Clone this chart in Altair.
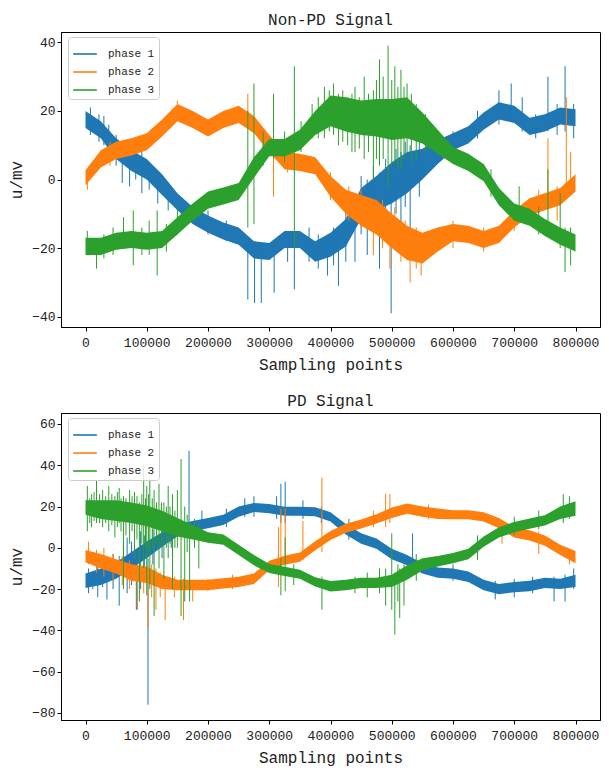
import altair as alt
import pandas as pd

FONT = "Liberation Mono"
NAMES = ["phase 1", "phase 2", "phase 3"]
COLORS = ["#1f77b4", "#ff7f0e", "#2ca02c"]

# sampling positions of the read-off envelope
X = list(range(0, 800001, 25000))

# ---------------- Non-PD signal (top) ----------------
top_c1 = [17.5, 14.5, 9, 5.5, 3, -1.5, -6.5, -10.5, -13, -15, -16.5, -20.5, -21, -17.5, -17.5, -21, -19,
          -15.5, -7, -4, -1, 2, 4.5, 8, 11, 13, 17, 20, 19, 15.5, 16.5, 18.5, 18]
top_h1 = [2.5, 2.5, 3, 3, 3, 3, 2.5, 2.5, 2.5, 2.5, 2.5, 2.5, 2.5, 2.5, 2.5, 3, 3.5, 4, 4.5, 5, 6, 6, 4.5, 3.5,
          2.5, 2.5, 2.5, 2.5, 2.5, 2.5, 2.5, 2.5, 2.5]
top_c2 = [0.5, 6, 8.5, 9.5, 11, 15, 19.5, 17.5, 15, 17.5, 19, 16, 10.5, 5.5, 5, 4, -2, -6.5, -9, -11, -15,
          -18.5, -20, -17.5, -15.5, -16, -17.5, -16, -11.5, -8, -6.5, -5, -1]
top_h2 = [2.2, 2.5, 2.5, 2.5, 2.5, 2.5, 2.5, 2.5, 2.5, 2.5, 2.5, 2.5, 2.5, 2.5, 2.5, 2.5, 3, 3.5, 4.5, 5, 5, 5,
          4.5, 3.5, 2.5, 2.5, 2.5, 2.5, 2.5, 2.5, 2.5, 2.5, 2.5]
top_c3 = [-19.5, -19.5, -18, -17.5, -18, -17.5, -13.5, -9.5, -6, -4.8, -3.5, 3.5, 9.3, 9.3, 11.5, 16.5, 20, 19,
          18, 18, 17.5, 18, 15, 11, 7, 5, 2, -5, -9.5, -11, -14, -16.5, -18.5]
top_h3 = [2.5, 2.5, 2.5, 2.5, 2.5, 2.5, 2.5, 2.5, 2.5, 2.5, 2.5, 3, 2.5, 2.5, 3, 3.5, 4.5, 5, 5, 5.5, 6, 6, 4.5,
          3.5, 2.5, 2.5, 2.5, 2.5, 2.5, 2.5, 2.5, 2.5, 2.5]

top_s1 = [(8000, 13, 21), (22000, 11, 19), (30000, 10, 18.5), (38000, 7, 16), (50000, 4, 13), (60000, -1, 8),
          (72000, -2, 6), (82000, 0, 8), (92000, -4, 10), (104000, -3, 5), (118000, -7, 2), (135000, -9, -1),
          (200000, -16, -9), (230000, -18, -12), (265000, -35, -18), (276000, -36, -18), (287000, -36, -19),
          (308000, -33, -18), (330000, -24, -15), (341000, -32, -16), (365000, -24, -14), (380000, -26, -16),
          (395000, -28, -17), (405000, -25, -14), (413000, -31, -15), (425000, -24, -9), (440000, -24, -10),
          (450000, -16, 1), (460000, -22, 0), (470000, -14, 4), (480000, -26, 2), (490000, -12, 6),
          (499000, -39, -2), (507000, -10, 9), (515000, -20, 8), (522000, -8, 11), (530000, -15, 10),
          (545000, -5, 12), (600000, 8, 14), (640000, 12, 20), (675000, 16, 26), (695000, 17, 28),
          (713000, 14, 24), (735000, 12, 19), (755000, 14, 30), (770000, 13, 22), (783000, 14, 33),
          (797000, 12, 22)]
top_s2 = [(3000, -3, 3), (40000, 4, 11), (150000, 17, 23), (265000, 16, 25), (290000, 8, 15), (307000, -5, 10),
          (330000, 2, 8), (400000, -6, 2), (430000, -12, -2), (450000, -14, -3), (470000, -22, -8),
          (485000, -20, -6), (497000, -26, -12), (505000, -20, -8), (515000, -24, -12), (522000, -22, -12),
          (530000, -30, -16), (540000, -26, -14), (548000, -28, -17), (600000, -20, -12), (650000, -21, -14),
          (700000, -15, -8), (740000, -10, -3), (755000, -8, 12), (770000, -12, -2), (785000, -3, 24),
          (792000, -4, 8)]
top_s3 = [(3000, -22, -15), (18000, -26, -18), (30000, -23, -16), (45000, -22, -14), (62000, -20, -11),
          (78000, -25, -9), (92000, -22, -14), (104000, -22, -12), (117000, -28, -9), (132000, -21, -13),
          (150000, -16, -8), (265000, -14, 20), (275000, -13, 28), (290000, 4, 14), (307000, 6, 25),
          (325000, 5, 14), (341000, -20, 33), (352000, 8, 17), (370000, 12, 22), (380000, 12, 24),
          (390000, 12, 27), (398000, 14, 26), (405000, 13, 28), (413000, 10, 25), (420000, 11, 26),
          (428000, 10, 24), (435000, 8, 25), (440000, 8, 27), (447000, 9, 24), (455000, 6, 30), (462000, 8, 25),
          (470000, 0, 26), (475000, 6, 29), (480000, 4, 35), (486000, 6, 30), (494000, -2, 39), (500000, 4, 29),
          (505000, 5, 33), (510000, 3, 27), (515000, 3, 32), (520000, 6, 27), (525000, 8, 28), (532000, 5, 25),
          (540000, 6, 22), (555000, 8, 19), (662000, -5, 3), (708000, -12, -2), (740000, -16, -8),
          (755000, -16, 3), (775000, -20, -4), (783000, -27, -14), (792000, -25, -14)]

# ---------------- PD signal (bottom) ----------------
bot_c1 = [-16, -14, -11, -6, -1, 4, 8.5, 10.5, 12, 13.5, 17.5, 19.5, 19, 17.7, 17.7, 17.5, 15, 9, 4.5, 2, -3,
          -6, -10, -12, -12.5, -14, -18, -20, -19, -18.5, -17, -17.5, -16]
bot_h1 = [3.5, 4, 4, 4, 4, 3.5, 3, 2.5, 2.5, 2.5, 2.5, 2.2, 2.2, 2.2, 2.2, 2.2, 2.2, 2.5, 2.5, 2.5, 2.5, 2.5,
          2.5, 2.5, 2.5, 2.5, 2.5, 2.5, 2.5, 2.5, 2.5, 2.5, 3]
bot_c2 = [-4, -6.5, -9, -12, -13, -16.5, -18, -18, -18, -17.2, -16.5, -15, -8.5, -6, -4.5, 1, 6, 9.5, 11.5, 14,
          17, 19, 17.5, 16.5, 16, 16, 15, 12, 7.5, 6, 3.5, -1, -4.5]
bot_h2 = [3, 3.5, 3.5, 4, 4, 3.5, 2.5, 2.5, 2.5, 2.5, 2.5, 2.5, 2.2, 2.2, 2.2, 2.2, 2.2, 2.2, 2.2, 2.2, 2.5,
          2.5, 2.5, 2.5, 2.2, 2.2, 2.2, 2.5, 2.5, 2.5, 2.5, 2.5, 3]
bot_c3 = [19.5, 18.5, 18, 17, 15.5, 13, 10, 7.5, 5, 4, -1, -6, -10, -11.4, -12.8, -16.5, -18.6, -18, -17, -17,
          -16, -12, -8, -6.5, -5, -3, 3, 7.5, 10, 11.7, 13.3, 17, 19]
bot_h3 = [3.5, 4.5, 5, 5, 5, 5, 4.5, 3.5, 2.5, 2.5, 2.5, 2.5, 2.2, 2.2, 2.2, 2.2, 2.5, 2.5, 2.5, 2.5, 3, 3.5, 3,
          2.5, 2.5, 2.5, 2.5, 2.5, 2.5, 2.5, 2.5, 3, 3.5]

bot_s1 = [(5000, -22, -10), (12000, -20, -12), (20000, -24, -8), (28000, -19, -6), (35000, -25, -5),
          (45000, -20, -3), (55000, -28, -4), (62000, -16, 2), (68000, -22, 5), (75000, -18, 3),
          (83000, -30, -6), (90000, -20, 8), (96000, -14, 6), (102000, -76, -5), (110000, -8, 9),
          (125000, -5, 12), (140000, 0, 14), (169000, 5, 47), (190000, 6, 18), (230000, 10, 19),
          (260000, 15, 24), (275000, 15, 25), (312000, 14, 25), (319000, 12, 31), (326000, 12, 32),
          (355000, 14, 23), (385000, 12, 20), (430000, 4, 14), (534000, -12, 7), (600000, -16, -8),
          (669000, -25, -16), (700000, -24, -15), (730000, -22, -14), (765000, -26, -14), (783000, -26, -13),
          (797000, -20, -10)]
bot_s2 = [(5000, -8, 3), (18000, -12, -1), (30000, -14, 0), (45000, -16, -3), (60000, -18, -4),
          (72000, -20, -6), (85000, -30, -8), (95000, -22, -8), (102000, -39, -10), (108000, -24, -8),
          (115000, -30, -10), (122000, -24, -12), (130000, -35, -14), (145000, -24, -14), (160000, -35, -15),
          (175000, -26, -16), (200000, -21, -15), (240000, -20, -13), (315000, -19, 10), (319000, -10, 19),
          (326000, -8, 19), (355000, -6, 13), (386000, -2, 34), (470000, 10, 18), (490000, 10, 26),
          (497000, 12, 26), (560000, 14, 21), (680000, 2, 10), (740000, -3, 8), (790000, -8, -1)]
bot_s3 = [(3000, 8, 30), (7000, 12, 24), (10000, 10, 26), (14000, 13, 27), (18000, 12, 33), (23000, 12, 26),
          (28000, 10, 28), (33000, 12, 25), (38000, 8, 30), (43000, 11, 26), (48000, 5, 25), (52000, 10, 27),
          (55000, 12, 29), (58000, 8, 24), (62000, -20, 25), (66000, 6, 24), (72000, 2, 28), (76000, 8, 25),
          (80000, -5, 27), (84000, 4, 25), (88000, -26, 22), (92000, 2, 26), (95000, -10, 40), (98000, 0, 24),
          (100000, -23, 30), (103000, -2, 26), (105000, -20, 34), (109000, 0, 24), (112000, -33, 28),
          (116000, 2, 22), (120000, -10, 31), (124000, 0, 22), (128000, -15, 22), (132000, 0, 20),
          (135000, -5, 30), (138000, 2, 20), (142000, -20, 26), (146000, 0, 18), (150000, 0, 28),
          (156000, -33, 43), (162000, -26, 20), (166000, -2, 16), (170000, -26, 12), (178000, 0, 14),
          (185000, -10, 12), (319000, -23, -5), (326000, -21, 5), (340000, -18, -8), (386000, -30, -14),
          (440000, -22, -14), (460000, -24, -12), (480000, -22, -10), (490000, -28, -10), (500000, -30, 7),
          (505000, -42, -12), (510000, -26, -8), (513000, -34, -10), (520000, -28, -8), (540000, -16, -3),
          (640000, -6, 6), (700000, 6, 15), (740000, 9, 18), (780000, 12, 26), (790000, 14, 25)]

X_TICKS = [0, 100000, 200000, 300000, 400000, 500000, 600000, 700000, 800000]
TOP_Y_TICKS = [-40, -20, 0, 20, 40]
BOT_Y_TICKS = [-80, -60, -40, -20, 0, 20, 40, 60]


def band_frame(centers, halves, name):
    return pd.DataFrame({"x": X,
                         "lo": [c - h for c, h in zip(centers, halves)],
                         "hi": [c + h for c, h in zip(centers, halves)],
                         "series": name})


def spike_frame(spikes, name):
    return pd.DataFrame({"x": [s[0] for s in spikes],
                         "lo": [s[1] for s in spikes],
                         "hi": [s[2] for s in spikes],
                         "series": name})


def panel(bands, spikes, title, ydom, yticks, height):
    xenc = alt.X("x:Q", scale=alt.Scale(domain=[-40000, 840000], nice=False, zero=False),
                 axis=alt.Axis(values=X_TICKS, format="d", title="Sampling points",
                               labelFlush=False, labelOverlap=False, titlePadding=7, labelPadding=5))
    yenc = alt.Y("lo:Q", scale=alt.Scale(domain=ydom, nice=False, zero=False),
                 axis=alt.Axis(values=yticks, title="u/mv", labelFlush=False, titlePadding=7))
    color = alt.Color("series:N", scale=alt.Scale(domain=NAMES, range=COLORS),
                      legend=alt.Legend(title=None, orient="none", legendX=7, legendY=5,
                                        fillColor="rgba(255,255,255,0.8)", strokeColor="#cccccc",
                                        cornerRadius=3, padding=4, symbolType="stroke", symbolSize=560,
                                        symbolStrokeWidth=1.6, labelFont=FONT, labelFontSize=11,
                                        labelColor="#222222", labelOffset=10, rowPadding=0,
                                        symbolOpacity=1))
    layers = []
    for name, col, bdf, sdf in zip(NAMES, COLORS, bands, spikes):
        layers.append(alt.Chart(bdf).mark_area(opacity=1, clip=True).encode(
            x=xenc, y=yenc, y2="hi:Q", color=alt.value(col)))
        layers.append(alt.Chart(sdf).mark_rule(strokeWidth=1, clip=True).encode(
            x=xenc, y=yenc, y2="hi:Q", color=color))
    return alt.layer(*layers).properties(width=539, height=height, title=title)


top = panel([band_frame(top_c1, top_h1, NAMES[0]), band_frame(top_c2, top_h2, NAMES[1]),
             band_frame(top_c3, top_h3, NAMES[2])],
            [spike_frame(top_s1, NAMES[0]), spike_frame(top_s2, NAMES[1]), spike_frame(top_s3, NAMES[2])],
            "Non-PD Signal", [-43, 43], TOP_Y_TICKS, 295)
bottom = panel([band_frame(bot_c1, bot_h1, NAMES[0]), band_frame(bot_c2, bot_h2, NAMES[1]),
                band_frame(bot_c3, bot_h3, NAMES[2])],
               [spike_frame(bot_s1, NAMES[0]), spike_frame(bot_s2, NAMES[1]), spike_frame(bot_s3, NAMES[2])],
               "PD Signal", [-83.4, 65.3], BOT_Y_TICKS, 307)

chart = alt.vconcat(top, bottom, spacing=19).resolve_scale(color="independent").resolve_legend(
    color="independent"
).configure(
    padding={"left": 0, "top": 3, "right": 0, "bottom": 0}
).configure_view(
    stroke="black", strokeWidth=1
).configure_axis(
    grid=False, domainColor="black", tickColor="black", tickSize=4, labelFont=FONT, labelFontSize=13,
    labelColor="#222222", titleFont=FONT, titleFontSize=16, titleFontWeight="normal", titleColor="#222222",
    labelPadding=2
).configure_title(
    font=FONT, fontSize=16, fontWeight="normal", anchor="middle", offset=4, color="#222222"
)

chart.save("out.html", embed_options={"renderer": "svg", "actions": False})
